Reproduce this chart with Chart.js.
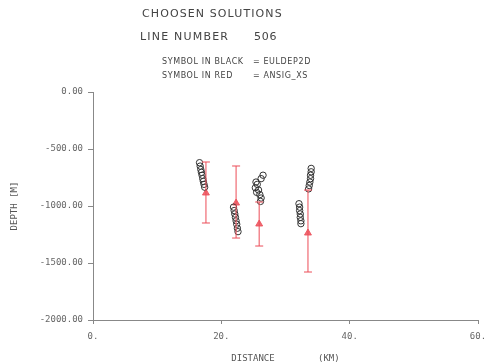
<!DOCTYPE html>
<html lang="en">
<head>
  <meta charset="UTF-8" />
  <title>Choosen Solutions - Line 506</title>
  <script src="https://cdn.jsdelivr.net/npm/chart.js"></script>
  <style>
    html, body { margin: 0; padding: 0; background: #fff; }
    #wrap { width: 487px; height: 364px; }
  </style>
</head>
<body>
  <div id="wrap"><canvas id="depthChart"></canvas></div>

  <script>
    // black symbols (EULDEP2D): distance [km], depth [m]
    const blackX = [16.6, 16.7, 16.8, 16.9, 17.0, 17.1, 17.2, 17.3, 17.4,
                    21.9, 22.0, 22.1, 22.2, 22.3, 22.4, 22.5, 22.6,
                    26.5, 26.2, 25.4, 25.6, 25.3, 25.8, 25.5, 26.0, 26.2, 26.1,
                    34.0, 34.0, 33.9, 33.9, 33.8, 33.7, 33.6,
                    32.1, 32.2, 32.2, 32.3, 32.3, 32.4, 32.4];
    const blackY = [-620, -650, -680, -705, -730, -760, -785, -810, -835,
                    -1010, -1040, -1070, -1100, -1130, -1160, -1195, -1225,
                    -730, -760, -790, -810, -840, -860, -880, -900, -930, -960,
                    -670, -700, -730, -760, -790, -820, -850,
                    -980, -1010, -1040, -1070, -1100, -1130, -1155];

    // red symbols (ANSIG_XS) with error range
    const redX = [17.6, 22.3, 25.9, 33.5];
    const redY = [-886, -974, -1158, -1237];
    const redTop = [-614, -649, -965, -860];
    const redBottom = [-1149, -1281, -1351, -1579];

    const xTicks = [0, 20, 40, 60];
    const yTicks = [0, -500, -1000, -1500, -2000];

    const RED = 'rgba(236, 80, 90, 0.85)';
    const GREY = '#666';
    const MONO = "'DejaVu Sans Mono', monospace";

    const datasets = [];
    redX.forEach((x, i) => {
      datasets.push({
        data: [{ x: x, y: redTop[i] }, { x: x, y: redBottom[i] }],
        showLine: true,
        borderColor: RED,
        borderWidth: 1.2,
        pointStyle: 'line',
        pointRadius: 4,
        pointBorderColor: RED,
        pointBorderWidth: 1.2
      });
    });
    datasets.push({
      data: blackX.map((x, i) => ({ x: x, y: blackY[i] })),
      pointStyle: 'circle',
      pointRadius: 3.2,
      borderColor: '#333',
      backgroundColor: 'rgba(0,0,0,0)',
      borderWidth: 1
    });
    datasets.push({
      data: redX.map((x, i) => ({ x: x, y: redY[i] })),
      pointStyle: 'triangle',
      pointRadius: 4,
      borderColor: RED,
      backgroundColor: RED,
      borderWidth: 1
    });

    // header text of the plot
    const headerPlugin = {
      id: 'header',
      afterDraw(chart) {
        const c = chart.ctx;
        c.save();
        c.fillStyle = '#444';
        c.textBaseline = 'middle';
        c.textAlign = 'left';
        c.font = "11px 'DejaVu Sans'";
        c.letterSpacing = '1.1px';
        c.fillText('CHOOSEN SOLUTIONS', 142, 14);
        c.letterSpacing = '1.2px';
        c.fillText('LINE NUMBER', 140, 37);
        c.letterSpacing = '0.8px';
        c.fillText('506', 254, 37);
        c.font = "8px 'DejaVu Sans'";
        c.letterSpacing = '0.6px';
        c.fillText('SYMBOL IN BLACK', 162, 62);
        c.fillText('= EULDEP2D', 253, 62);
        c.fillText('SYMBOL IN RED', 162, 76);
        c.fillText('= ANSIG_XS', 253, 76);
        c.restore();
      }
    };

    new Chart(document.getElementById('depthChart'), {
      type: 'scatter',
      data: { datasets: datasets },
      plugins: [headerPlugin],
      options: {
        responsive: true,
        maintainAspectRatio: false,
        animation: false,
        layout: { padding: { left: 0, top: 92, right: 9, bottom: 0 } },
        plugins: {
          legend: { display: false },
          tooltip: { enabled: false }
        },
        scales: {
          x: {
            type: 'linear',
            min: 0,
            max: 60,
            afterBuildTicks: s => { s.ticks = xTicks.map(v => ({ value: v })); },
            afterFit: s => { s.height = 44; s.paddingRight = 0; s.paddingLeft = 0; },
            ticks: {
              color: GREY,
              font: { family: MONO, size: 9 },
              padding: 7,
              maxRotation: 0,
              callback: v => v + '.'
            },
            grid: { drawOnChartArea: false, drawTicks: true, tickLength: 4, color: '#888' },
            border: { display: true, color: '#888', width: 1 },
            title: {
              display: true,
              text: 'DISTANCE        (KM)',
              color: '#555',
              font: { family: MONO, size: 9 },
              padding: { top: 2, bottom: 0 }
            }
          },
          y: {
            type: 'linear',
            min: -2000,
            max: 0,
            afterBuildTicks: s => { s.ticks = yTicks.map(v => ({ value: v })); },
            afterFit: s => { s.width = 93; },
            ticks: {
              color: GREY,
              font: { family: MONO, size: 9 },
              padding: 5,
              callback: v => v.toFixed(2)
            },
            grid: { drawOnChartArea: false, drawTicks: true, tickLength: 5, color: '#888' },
            border: { display: true, color: '#888', width: 1 },
            title: {
              display: true,
              text: 'DEPTH [M]',
              color: '#555',
              font: { family: MONO, size: 9 },
              padding: { top: 9, bottom: 4 }
            }
          }
        }
      }
    });
  </script>
</body>
</html>
